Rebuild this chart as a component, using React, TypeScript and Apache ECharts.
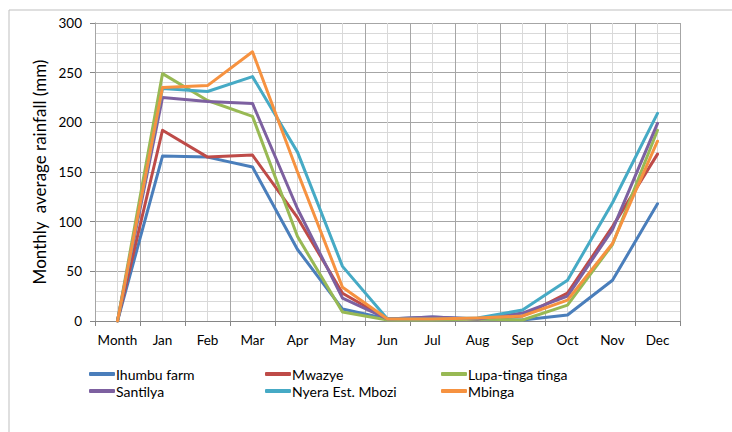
import React, { useEffect, useRef } from "react";
import * as echarts from "echarts";

const categories = ["Month", "Jan", "Feb", "Mar", "Apr", "May", "Jun", "Jul", "Aug", "Sep", "Oct", "Nov", "Dec"];
const ihumbu = [0, 166, 165, 155, 72, 12, 2, 4, 2, 1, 6, 41, 118];
const mwazye = [0, 192, 165, 167, 104, 28, 2, 2, 2, 5, 28, 95, 168];
const lupa = [0, 249, 222, 206, 85, 9, 1, 1, 2, 1, 16, 77, 192];
const santilya = [0, 225, 221, 219, 113, 23, 2, 4, 2, 8, 25, 92, 199];
const nyera = [0, 234, 231, 246, 170, 55, 2, 2, 3, 11, 41, 119, 209];
const mbinga = [0, 235, 237, 271, 150, 34, 2, 2, 3, 5, 21, 78, 181];
const yTicks = [0, 50, 100, 150, 200, 250, 300];

const seriesDefs = [
  { name: "Ihumbu farm", data: ihumbu, color: "#4A7EBB" },
  { name: "Mwazye", data: mwazye, color: "#BE4B48" },
  { name: "Lupa-tinga tinga", data: lupa, color: "#98B954" },
  { name: "Santilya", data: santilya, color: "#7D60A0" },
  { name: "Nyera Est. Mbozi", data: nyera, color: "#46AAC5" },
  { name: "Mbinga", data: mbinga, color: "#F69240" },
];

const FONT = "Lato";

export default function App() {
  const ref = useRef<HTMLDivElement>(null);
  useEffect(() => {
    if (!ref.current) return;
    const chart = echarts.init(ref.current, null, { renderer: "svg" });
    const halfCats: string[] = [];
    categories.forEach((c) => { halfCats.push(c + "a"); halfCats.push(c + "b"); });
    const legendCols = [0, 1, 2].map((col) => ({
      orient: "vertical" as const,
      left: 84 + col * 176,
      top: 362,
      itemWidth: 26,
      itemHeight: 4,
      itemGap: 3,
      icon: "roundRect",
      textStyle: { fontFamily: FONT, fontSize: 14, color: "#000", padding: [0, 0, 0, -4] },
      data: [seriesDefs[col].name, seriesDefs[col + 3].name],
    }));
    chart.setOption({
      animation: false,
      backgroundColor: "#fff",
      graphic: [
        {
          type: "rect",
          shape: { x: 9, y: 10, width: 900, height: 600 },
          style: { fill: "none", stroke: "#BFBFBF", lineWidth: 1 },
          silent: true,
        },
      ],
      legend: legendCols,
      grid: { left: 95, right: 52, top: 23, bottom: 111, containLabel: false },
      xAxis: [
        {
          type: "category",
          data: categories,
          boundaryGap: true,
          axisLine: { show: true, lineStyle: { color: "#868686", width: 1 } },
          axisTick: { show: true, length: 5, lineStyle: { color: "#868686" } },
          axisLabel: { fontFamily: FONT, fontSize: 13.5, color: "#000", margin: 12, interval: 0 },
          splitLine: { show: true, interval: 0, lineStyle: { color: "#A6A6A6", width: 1 } },
          z: 3,
        },
        {
          type: "category",
          data: halfCats,
          boundaryGap: true,
          position: "top",
          axisLine: { show: false },
          axisTick: { show: false },
          axisLabel: { show: false },
          splitLine: {
            show: true,
            interval: (index: number) => index % 2 === 1,
            lineStyle: { color: "#D9D9D9", width: 1 },
          },
          z: 1,
        },
      ],
      yAxis: {
        type: "value",
        min: 0,
        max: 300,
        interval: 50,
        name: "Monthly  average rainfall (mm)",
        nameLocation: "middle",
        nameGap: 47,
        nameTextStyle: { fontFamily: FONT, fontSize: 17, color: "#000" },
        axisLine: { show: true, lineStyle: { color: "#868686" } },
        axisTick: { show: true, length: 5, lineStyle: { color: "#868686" } },
        axisLabel: {
          fontFamily: FONT,
          fontSize: 13.5,
          color: "#000",
          margin: 13,
          formatter: (v: number) => (yTicks.includes(v) ? String(v) : ""),
        },
        splitLine: { show: true, lineStyle: { color: "#A6A6A6", width: 1 } },
        minorTick: { show: false, splitNumber: 5 },
        minorSplitLine: { show: true, lineStyle: { color: "#D9D9D9", width: 1 } },
      },
      series: seriesDefs.map((s) => ({
        name: s.name,
        type: "line",
        data: s.data,
        xAxisIndex: 0,
        symbol: "none",
        lineStyle: { color: s.color, width: 3, cap: "round", join: "round" },
        itemStyle: { color: s.color },
        z: 5,
      })),
    });
    return () => chart.dispose();
  }, []);
  return (
    <div
      ref={ref}
      style={{ position: "fixed", left: 0, top: 0, width: 732, height: 432, background: "#fff" }}
    />
  );
}
